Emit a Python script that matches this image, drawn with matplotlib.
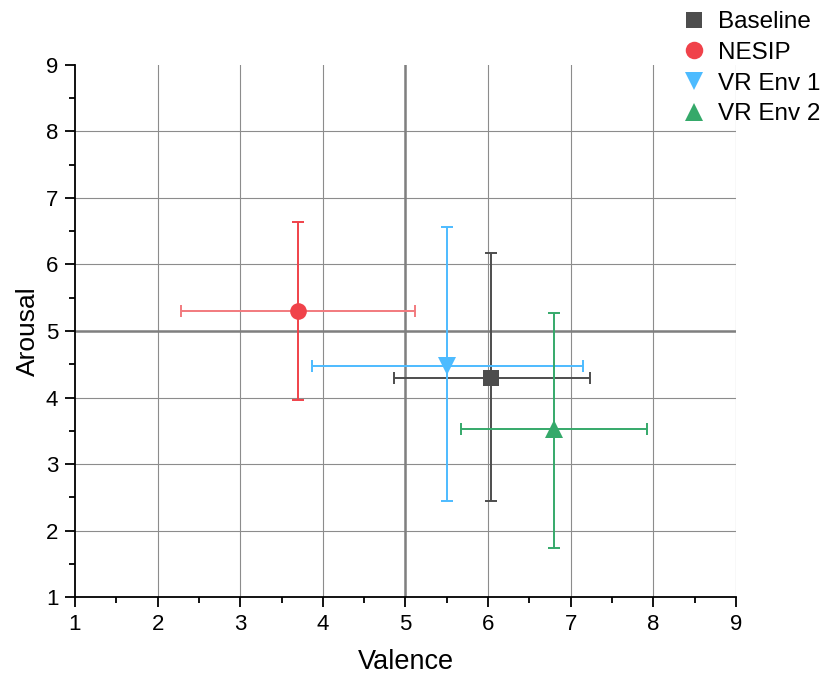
import numpy as np
import matplotlib
matplotlib.use("Agg")
import matplotlib.pyplot as plt
from matplotlib.ticker import MultipleLocator

plt.rcParams['font.family'] = ['Liberation Sans', 'DejaVu Sans']

groups = ['Baseline', 'NESIP', 'VR Env 1', 'VR Env 2']
valence = [6.04, 3.70, 5.50, 6.80]
arousal = [4.29, 5.30, 4.48, 3.52]
val_lo = [4.86, 2.28, 3.87, 5.67]
val_hi = [7.23, 5.12, 7.15, 7.92]
aro_lo = [2.44, 3.96, 2.44, 1.73]
aro_hi = [6.17, 6.64, 6.56, 5.27]

colors = ['#4d4d4d', '#f0424a', '#4dbbff', '#35a96a']
xcolors = ['#4d4d4d', '#f27a7e', '#4dbbff', '#35a96a']
markers = ['s', 'o', 'v', '^']
msizes = [11, 12, 13, 13]

fig = plt.figure(figsize=(8.25, 6.81), dpi=100)
ax = fig.add_axes([0.0909, 0.1233, 0.8012, 0.7813])

for x in range(2, 10):
    ax.axvline(x, color='#8c8c8c', lw=0.8, zorder=0)
for y in range(2, 9):
    ax.axhline(y, color='#8c8c8c', lw=0.8, zorder=0)
ax.axvline(5, color='#7f7f7f', lw=1.8, zorder=0.5)
ax.axhline(5, color='#7f7f7f', lw=1.8, zorder=0.5)

handles = []
for i, g in enumerate(groups):
    xe = [[valence[i] - val_lo[i]], [val_hi[i] - valence[i]]]
    ye = [[arousal[i] - aro_lo[i]], [aro_hi[i] - arousal[i]]]
    ax.errorbar([valence[i]], [arousal[i]], xerr=xe, fmt='none',
                ecolor=xcolors[i], elinewidth=1.4, capsize=4, capthick=1.4, zorder=2)
    ax.errorbar([valence[i]], [arousal[i]], yerr=ye, fmt='none',
                ecolor=colors[i], elinewidth=1.4, capsize=4, capthick=1.4, zorder=2)
    h, = ax.plot([valence[i]], [arousal[i]], linestyle='none', marker=markers[i],
                 markersize=msizes[i], color=colors[i], markeredgewidth=0, zorder=3, label=g)
    handles.append(h)

ax.set_xlim(1, 9)
ax.set_ylim(1, 9)
ax.xaxis.set_major_locator(MultipleLocator(1))
ax.yaxis.set_major_locator(MultipleLocator(1))
ax.xaxis.set_minor_locator(MultipleLocator(0.5))
ax.yaxis.set_minor_locator(MultipleLocator(0.5))
ax.tick_params(which='major', direction='out', length=7, width=1.3, labelsize=16, pad=5)
ax.tick_params(which='minor', direction='out', length=4, width=1.3)
for s in ['top', 'right']:
    ax.spines[s].set_visible(False)
for s in ['left', 'bottom']:
    ax.spines[s].set_linewidth(1.3)

ax.set_xlabel('Valence', fontsize=19.5, labelpad=10)
ax.set_ylabel('Arousal', fontsize=19, labelpad=4)

fig.legend(handles=handles, loc='upper left', bbox_to_anchor=(0.813, 0.998),
           frameon=False, fontsize=17.5, handletextpad=0.45, labelspacing=0.36,
           handlelength=1.1, borderaxespad=0.0, markerscale=1.05)

fig.savefig('out.png', dpi=100)
